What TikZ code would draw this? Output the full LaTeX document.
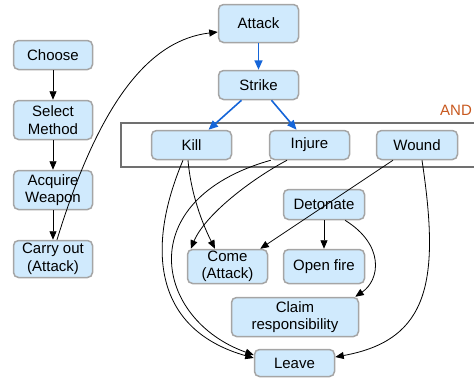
\documentclass[tikz,border=0pt]{standalone}
\usepackage{fontspec}
\setmainfont{Liberation Sans}
\usetikzlibrary{arrows.meta}
\definecolor{boxfill}{HTML}{D0EAFD}
\definecolor{boxline}{HTML}{A5A5A5}
\definecolor{andcol}{HTML}{C8581E}
\definecolor{bluearr}{HTML}{1565D8}
\definecolor{andline}{HTML}{707070}
\tikzset{
  box/.style={draw=boxline, fill=boxfill, line width=1.5pt, rounded corners=5pt,
    inner sep=0pt, align=center, text=black,
    font=\fontsize{15}{17.5}\selectfont},
  edge/.style={draw=black, line width=0.8pt, -{Triangle[length=8.5pt,width=7pt]}},
  bedge/.style={draw=bluearr, line width=1.6pt, -{Triangle[length=9.5pt,width=8pt]}},
}
\begin{document}
\begin{tikzpicture}[x=1pt,y=-1pt]
\useasboundingbox (0,0) rectangle (474,378);
% AND group
\draw[andline, line width=1.6pt] (474,123) -- (121,123) -- (121,167) -- (474,167);
\node[text=andcol, font=\fontsize{15}{17.5}\selectfont, anchor=center] (andlbl) at (456,110) {AND};
% left chain
\node[box, minimum width=79pt, minimum height=29pt] (choose) at (53,55) {Choose};
\node[box, minimum width=79pt, minimum height=39pt] (select) at (53,120) {Select\\Method};
\node[box, minimum width=79pt, minimum height=39pt] (acquire) at (53,190) {Acquire\\Weapon};
\node[box, minimum width=79pt, minimum height=37pt] (carry) at (53,259) {Carry out\\(Attack)};
% right part
\node[box, minimum width=80pt, minimum height=38pt] (attack) at (258.5,23.5) {Attack};
\node[box, minimum width=80pt, minimum height=29pt] (strike) at (258.5,85) {Strike};
\node[box, minimum width=80pt, minimum height=29pt] (kill) at (191.5,145) {Kill};
\node[box, minimum width=80pt, minimum height=29pt] (injure) at (309.5,145) {Injure};
\node[box, minimum width=81pt, minimum height=29pt] (wound) at (417,145) {Wound};
\node[box, minimum width=81pt, minimum height=30pt] (detonate) at (324,204.5) {Detonate};
\node[box, minimum width=81pt, minimum height=34pt] (openfire) at (324,266.5) {Open fire};
\node[box, minimum width=80pt, minimum height=34pt] (come) at (227.5,266.5) {Come\\(Attack)};
\node[box, minimum width=127pt, minimum height=39pt] (claim) at (295,317) {Claim\\responsibility};
\node[box, minimum width=80pt, minimum height=27pt] (leave) at (294.5,363) {Leave};
% left chain edges
\draw[edge] (choose) -- (select);
\draw[edge] (select) -- (acquire);
\draw[edge] (acquire) -- (carry);
\draw[edge] ([xshift=4pt]carry.north) .. controls (100,100) and (150,40) .. ([yshift=-8.5pt]attack.west);
% blue edges
\draw[bedge] (attack) -- (strike);
\draw[bedge] (strike) -- (kill);
\draw[bedge] (strike) -- (injure);
% black edges
\draw[edge] ([xshift=-3.5pt]kill.south) .. controls (191,195) and (203,225) .. ([xshift=-12.5pt]come.north);
\draw[edge] ([xshift=-8.5pt]kill.south) .. controls (145,250) and (155,330) .. ([yshift=5pt]leave.west);
\draw[edge] ([xshift=2pt]injure.south west) .. controls (130,200) and (155,320) .. ([yshift=8pt]leave.west);
\draw[edge] ([xshift=-22.5pt]injure.south) .. controls (250,180) and (205,215) .. ([xshift=4pt]come.north west);
\draw[edge] ([xshift=-24pt]wound.south) -- ([xshift=-8pt]come.north east);
\draw[edge] ([xshift=5pt]wound.south) .. controls (440,280) and (430,340) .. ([yshift=6pt]leave.east);
\draw[edge] (detonate) -- (openfire);
\draw[edge] ([xshift=21pt]detonate.south) .. controls (385,245) and (380,280) .. ([xshift=-4pt]claim.north east);
\end{tikzpicture}
\end{document}
